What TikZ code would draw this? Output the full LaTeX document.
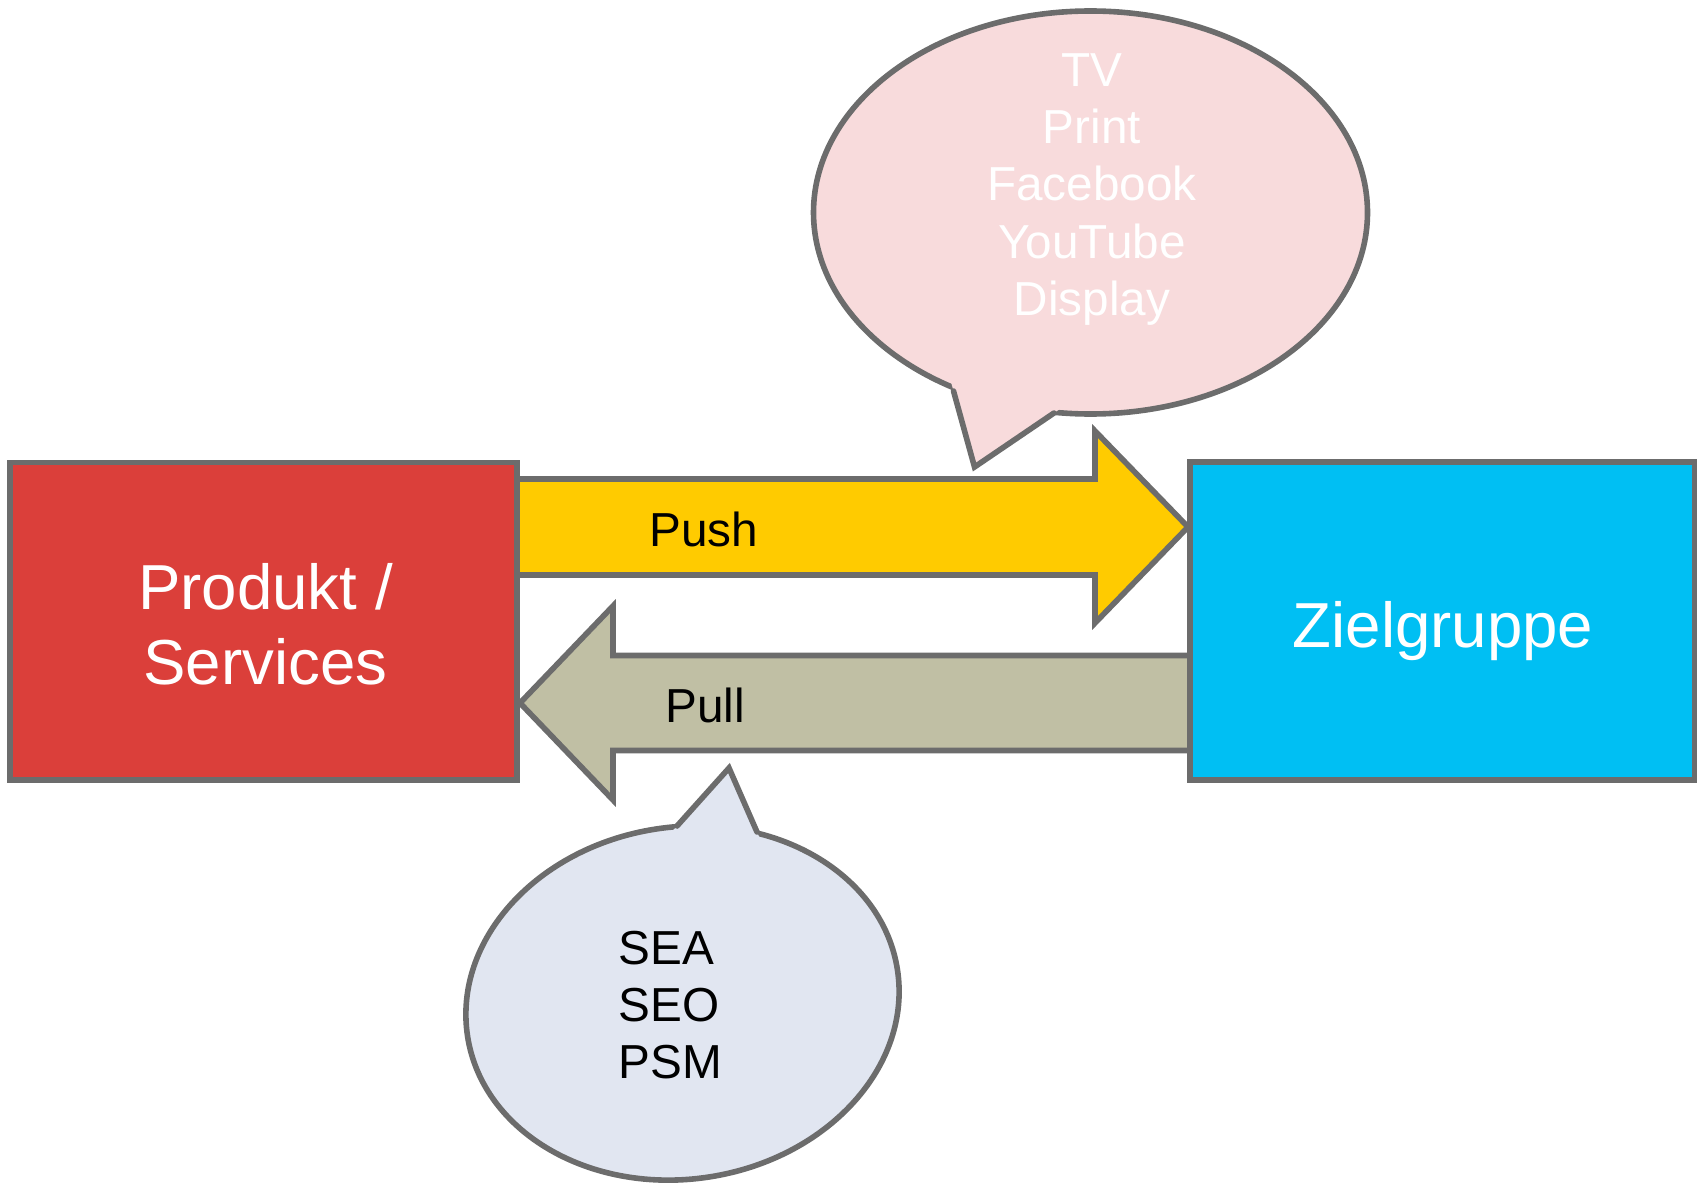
\documentclass[tikz,border=0pt]{standalone}
\usepackage{fontspec}
\setmainfont{Liberation Sans}
\usetikzlibrary{calc}
\definecolor{boxred}{HTML}{DB3F3A}
\definecolor{boxblue}{HTML}{00BFF3}
\definecolor{pushyellow}{HTML}{FFCB00}
\definecolor{pullkhaki}{HTML}{C0BFA4}
\definecolor{bubblepink}{HTML}{F8DBDC}
\definecolor{bubbleblue}{HTML}{E1E6F1}
\definecolor{edgegray}{HTML}{6C6C6C}
\begin{document}
\begin{tikzpicture}[x=1pt,y=-1pt,
  outline/.style={draw=edgegray, line width=5.6pt, line join=miter},
  boxnode/.style={outline, rectangle, inner sep=0pt, outer sep=0pt},
  bigtext/.style={font=\fontsize{63.6}{75}\selectfont, text=white, inner sep=0pt},
  smalltext/.style={font=\fontsize{47.7}{57.4}\selectfont, inner sep=0pt},
  tailedge/.style={draw=edgegray, line width=5.6pt, line cap=round, line join=miter}]
\useasboundingbox (0,0) rectangle (1702,1185);
% block arrows
\draw[outline, fill=pushyellow] (517,479) -- (1095,479) -- (1095,431) -- (1188,527)
  -- (1095,623) -- (1095,575) -- (517,575) -- cycle;
\draw[outline, fill=pullkhaki] (1190,655.5) -- (613,655.5) -- (613,606) -- (520,703)
  -- (613,800) -- (613,750.5) -- (1190,750.5) -- cycle;
\node[smalltext, anchor=base] (pushlabel) at (704,546) {Push};
\node[smalltext, anchor=base] (pulllabel) at (705,722) {Pull};
% boxes
\node[boxnode, fill=boxred, minimum width=507pt, minimum height=317.5pt] (red) at (263.5,621.25) {};
\node[boxnode, fill=boxblue, minimum width=504.5pt, minimum height=318pt] (blue) at (1442.25,621) {};
\node[bigtext, anchor=north, align=center] (redlabel) at (265.5,563) {Produkt /\\Services};
\node[bigtext, anchor=base] (bluelabel) at (1443,647) {Zielgruppe};
% top speech bubble
\coordinate (tA) at (953.5,391);
\coordinate (tT) at (974.5,467);
\coordinate (tB) at (1054,413);
\filldraw[fill=bubblepink, draw=edgegray, line width=5.6pt] (1090.5,212.5) ellipse [x radius=277, y radius=201.5];
\fill[bubblepink] (tT) -- ($(tT)!1.25!(tA)$) -- ($(tT)!1.25!(tB)$) -- cycle;
\draw[tailedge] (tA) -- (tT) -- (tB);
\node[smalltext, text=white, anchor=north, align=center] (toptext) at (1092,53)
  {TV\\Print\\Facebook\\YouTube\\Display};
% bottom speech bubble
\coordinate (bA) at (677,826);
\coordinate (bT) at (729,768);
\coordinate (bB) at (757,832);
\filldraw[fill=bubbleblue, draw=edgegray, line width=5.6pt, rotate around={8.9:(682.5,1003)}]
  (682.5,1003) ellipse [x radius=217.5, y radius=176];
\fill[bubbleblue] (bT) -- ($(bT)!1.25!(bA)$) -- ($(bT)!1.25!(bB)$) -- cycle;
\draw[tailedge] (bA) -- (bT) -- (bB);
\node[smalltext, anchor=north west, align=left] (bottomtext) at (618.5,930.5) {SEA\\SEO\\PSM};
\end{tikzpicture}
\end{document}
